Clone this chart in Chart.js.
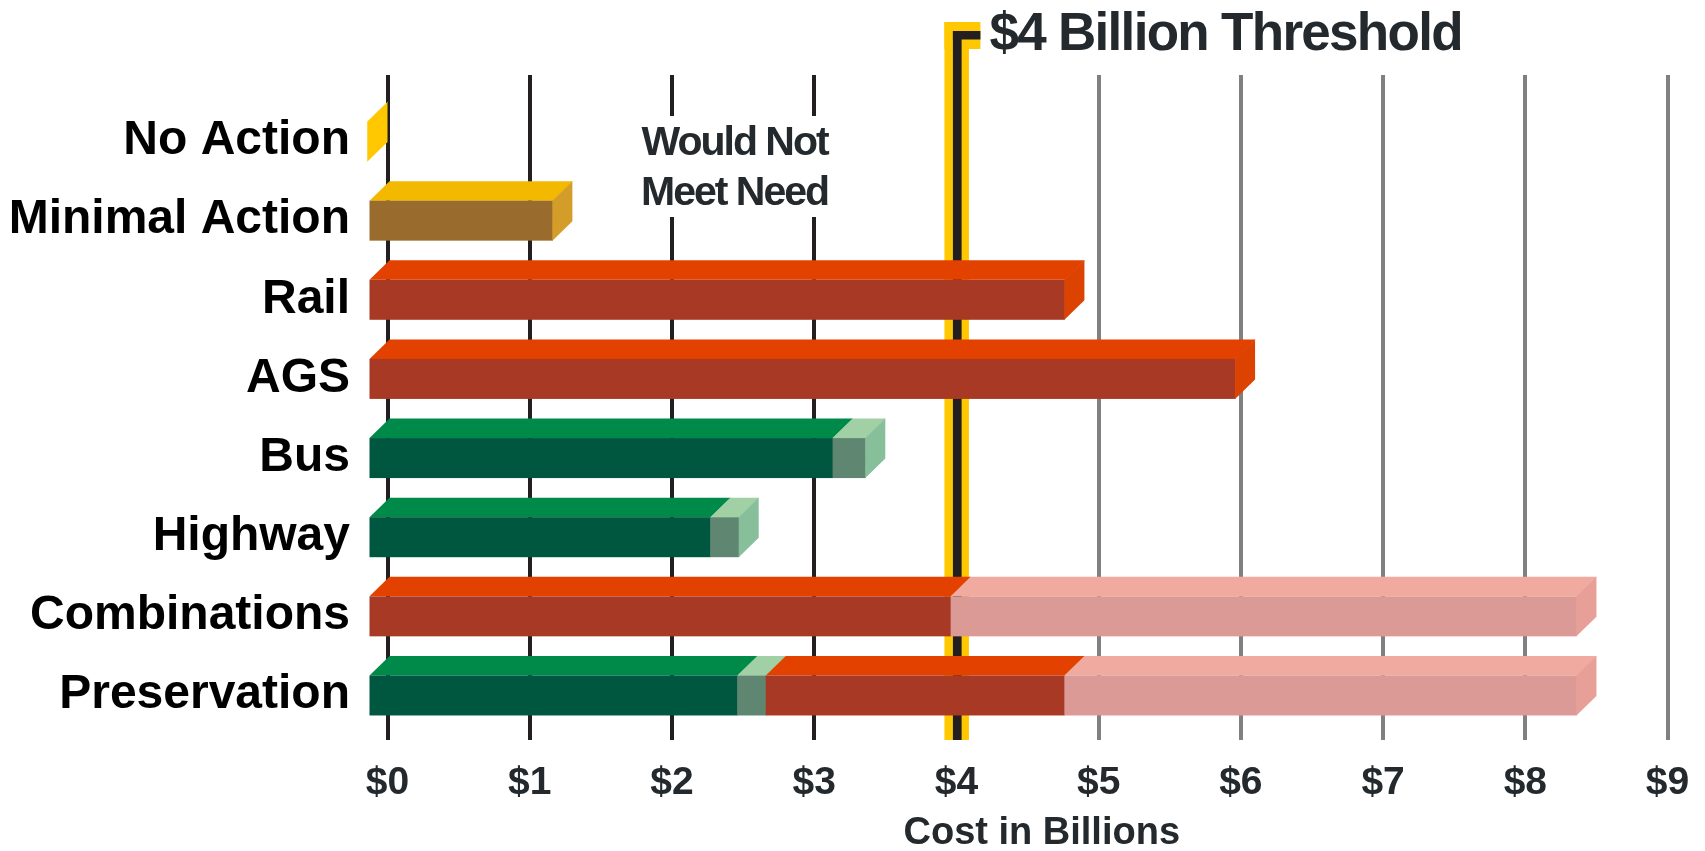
<!DOCTYPE html>
<html>
<head>
<meta charset="utf-8">
<script src="https://cdn.jsdelivr.net/npm/chart.js@4.4.1/dist/chart.umd.min.js"></script>
<style>
  html, body { margin: 0; padding: 0; background: #fff; }
  #wrap { width: 1705px; height: 851px; position: relative; }
</style>
</head>
<body>
<div id="wrap"><canvas id="costChart"></canvas></div>
<script>
// Alternatives, top to bottom
const categories = ["No Action", "Minimal Action", "Rail", "AGS", "Bus", "Highway", "Combinations", "Preservation"];

// Cost segments in $ billions, stacked left to right
const baseCost = [0, 1.3, 4.9, 6.1, 3.27, 2.41, 4.1, 2.6];
const addOnCost = [0, 0, 0, 0, 0.23, 0.2, 0, 0.2];
const railPart = [0, 0, 0, 0, 0, 0, 0, 2.1];
const upperRange = [0, 0, 0, 0, 0, 0, 4.4, 3.6];

// x axis ticks
const tickValues = [0, 1, 2, 3, 4, 5, 6, 7, 8, 9];
const tickLabels = ["$0", "$1", "$2", "$3", "$4", "$5", "$6", "$7", "$8", "$9"];
const threshold = 4;

const FONT = "'Liberation Sans', Arial, Helvetica, sans-serif";
const TEXT = "#23292c";

// colours: front / top / side faces
const YEL = ["#ffc800", "#ffc800", "#ffc800"];
const BRN = ["#996c2e", "#f2b900", "#d49c29"];
const RED = ["#a83a25", "#e34100", "#dc4300"];
const GRN = ["#005740", "#008a4a", "#00703f"];
const LGR = ["#5f8670", "#a0d0a4", "#86bf9a"];
const PNK = ["#db9a95", "#f0aaa0", "#e89f98"];

const baseCols = [YEL, BRN, RED, RED, GRN, GRN, RED, GRN];
const face = (cols, k) => cols.map((c) => c[k]);
const fill = (c) => categories.map(() => c);

function makeSet(label, data, cols) {
  return {
    label: label,
    data: data,
    backgroundColor: face(cols, 0),
    topColor: face(cols, 1),
    sideColor: face(cols, 2),
    barThickness: 40,
    stack: "cost",
  };
}

function poly(ctx, color, pts) {
  ctx.fillStyle = color;
  ctx.beginPath();
  ctx.moveTo(pts[0][0], pts[0][1]);
  for (let k = 1; k < pts.length; k++) ctx.lineTo(pts[k][0], pts[k][1]);
  ctx.closePath();
  ctx.fill();
}

// extras behind the bars + 3D bars
const bars3d = {
  id: "bars3d",
  beforeDatasetsDraw(chart) {
    const ctx = chart.ctx;
    const xs = chart.scales.x;
    const top = chart.chartArea.top;
    const bottom = chart.chartArea.bottom;
    ctx.save();

    // "Would Not Meet Need" note over the grid
    const nx = xs.getPixelForValue(2.44);
    ctx.fillStyle = "#fff";
    ctx.fillRect(nx - 110, top + 41, 220, 101);
    ctx.fillStyle = TEXT;
    ctx.font = "bold 41px " + FONT;
    ctx.letterSpacing = "-2px";
    ctx.textAlign = "center";
    ctx.textBaseline = "alphabetic";
    ctx.fillText("Would Not", nx, top + 80);
    ctx.fillText("Meet Need", nx, top + 130);

    // $4 billion threshold line with flag
    const tx = xs.getPixelForValue(threshold);
    ctx.fillStyle = "#ffc800";
    ctx.fillRect(tx - 12, 22, 24.5, bottom - 22);
    ctx.fillRect(tx - 12, 22, 36, 27);
    ctx.fillStyle = "#231f20";
    ctx.fillRect(tx - 3.5, 31, 8.7, bottom - 31);
    ctx.fillRect(tx - 3.5, 31, 27.5, 8.5);
    ctx.fillStyle = TEXT;
    ctx.font = "bold 53px " + FONT;
    ctx.letterSpacing = "-1.7px";
    ctx.textAlign = "left";
    ctx.fillText("$4 Billion Threshold", tx + 33, 50);
    ctx.letterSpacing = "0px";

    // bars: back face sits on the scale, front face shifted left/down
    const dx = 20, dy = 19.5;
    const sets = chart.data.datasets;
    categories.forEach((_, i) => {
      let last = 0;
      sets.forEach((ds, d) => { if (ds.data[i] > 0) last = d; });
      sets.forEach((ds, d) => {
        if (d !== last && !(ds.data[i] > 0)) return;
        const bar = chart.getDatasetMeta(d).data[i];
        const x0 = Math.min(bar.base, bar.x), x1 = Math.max(bar.base, bar.x);
        const y0 = bar.y - bar.height / 2, y1 = bar.y + bar.height / 2;
        poly(ctx, ds.topColor[i], [[x0, y0], [x1 + 0.5, y0], [x1 + 0.5 - dx, y0 + dy], [x0 - dx, y0 + dy]]);
        ctx.fillStyle = ds.backgroundColor[i];
        ctx.fillRect(x0 - dx, y0 + dy, x1 - x0 + 0.5, y1 - y0);
        if (d === last) {
          poly(ctx, ds.sideColor[i], [[x1, y0], [x1, y1], [x1 - dx, y1 + dy], [x1 - dx, y0 + dy]]);
        }
      });
    });
    ctx.restore();
    return false;
  },
};

new Chart(document.getElementById("costChart"), {
  type: "bar",
  data: {
    labels: categories.map((_, i) => i),
    datasets: [
      makeSet("Base", baseCost, baseCols),
      makeSet("Add-on", addOnCost, fill(LGR)),
      makeSet("Rail part", railPart, fill(RED)),
      makeSet("Upper range", upperRange, fill(PNK)),
    ],
  },
  options: {
    indexAxis: "y",
    responsive: true,
    maintainAspectRatio: false,
    animation: false,
    layout: { padding: { top: 75, right: 9, bottom: 0, left: 0 } },
    plugins: { legend: { display: false }, tooltip: { enabled: false } },
    scales: {
      x: {
        type: "linear",
        min: 0,
        max: 9.2,
        bounds: "data",
        stacked: true,
        afterFit: (s) => { s.height = 111; },
        afterBuildTicks: (s) => { s.ticks = tickValues.map((v) => ({ value: v })); },
        grid: {
          drawTicks: false,
          lineWidth: 4,
          color: (c) => {
            const v = c.tick ? c.tick.value : 0;
            if (v === threshold) return "rgba(0,0,0,0)";
            return v < threshold ? "#231f20" : "#808080";
          },
        },
        border: { display: false },
        ticks: {
          padding: 0,
          color: TEXT,
          font: { family: FONT, size: 39, weight: "bold", lineHeight: 2.2 },
          callback: (v) => tickLabels[tickValues.indexOf(v)],
        },
        title: {
          display: true,
          text: "Cost in Billions",
          color: TEXT,
          font: { family: FONT, size: 38, weight: "bold", lineHeight: 0.85 },
          padding: { top: 0, bottom: 1 },
        },
      },
      y: {
        type: "linear",
        reverse: true,
        offset: false,
        min: -0.594,
        max: 7.809,
        bounds: "data",
        stacked: true,
        afterFit: (s) => { s.width = 387.5; },
        afterBuildTicks: (s) => { s.ticks = categories.map((_, i) => ({ value: i })); },
        grid: { display: false, drawTicks: false, offset: false },
        border: { display: false },
        ticks: {
          autoSkip: false,
          padding: 37.5,
          labelOffset: 19,
          color: "#000",
          font: { family: FONT, size: 48, weight: "bold" },
          callback: (v) => categories[v] ?? "",
        },
      },
    },
  },
  plugins: [bars3d],
});
</script>
</body>
</html>
